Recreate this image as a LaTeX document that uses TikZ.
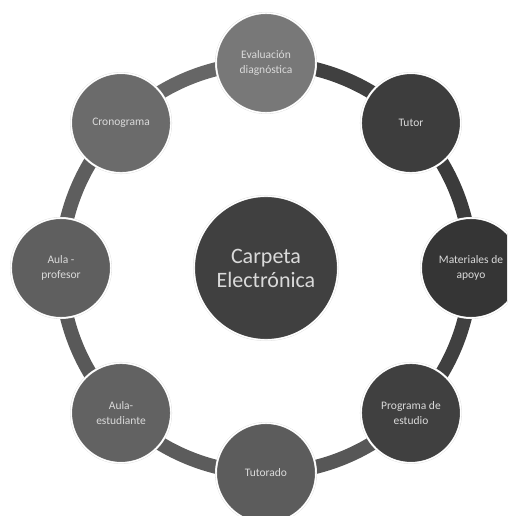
\documentclass[tikz,border=0pt]{standalone}
\usepackage{fontspec}
\setmainfont{Carlito}
\usetikzlibrary{backgrounds}
\definecolor{hubgray}{HTML}{404040}
\definecolor{evalgray}{HTML}{787878}
\definecolor{tutorgray}{HTML}{3D3D3D}
\definecolor{matgray}{HTML}{353535}
\definecolor{proggray}{HTML}{404040}
\definecolor{tutoradogray}{HTML}{5C5C5C}
\definecolor{estgray}{HTML}{626262}
\definecolor{profgray}{HTML}{5F5F5F}
\definecolor{cronogray}{HTML}{6B6B6B}
\definecolor{labelgray}{HTML}{DADADA}

\begin{document}
\begin{tikzpicture}[%
  x=1pt, y=1pt,
  bubble/.style={circle, minimum size=100pt, inner sep=0pt, align=center,
    draw=black!15, line width=0.3pt, double=white, double distance=1.4pt,
    text=labelgray, font=\fontsize{11.5}{14.5}\selectfont},
  hubnode/.style={bubble, minimum size=144pt, font=\fontsize{22}{24}\selectfont},
  ring/.style={line width=14pt},
]

  \useasboundingbox (-266,-248) rectangle (241,268);
  \clip (-266,-248) rectangle (241,268);

  \node[hubnode, fill=hubgray] (hub) at (0,0) {Carpeta\\Electrónica};

  \node[bubble, fill=evalgray] (eval) at (90:205) {Evaluación\\diagnóstica};
  \node[bubble, fill=tutorgray] (tutor) at (45:205) {Tutor};
  \node[bubble, fill=matgray] (mat) at (0:205) {Materiales de\\apoyo};
  \node[bubble, fill=proggray] (prog) at (-45:205) {Programa de\\estudio};
  \node[bubble, fill=tutoradogray] (tutorado) at (-90:205) {Tutorado};
  \node[bubble, fill=estgray] (est) at (-135:205) {Aula-\\estudiante};
  \node[bubble, fill=profgray] (prof) at (180:205) {Aula -\\profesor};
  \node[bubble, fill=cronogray] (crono) at (135:205) {Cronograma};

  \begin{scope}[on background layer]
    \draw[ring, color=black!60] (crono.center) arc[start angle=135, end angle=90, radius=205];
    \draw[ring, color=black!75] (eval.center) arc[start angle=90, end angle=45, radius=205];
    \draw[ring, color=black!77] (tutor.center) arc[start angle=45, end angle=0, radius=205];
    \draw[ring, color=black!75] (mat.center) arc[start angle=0, end angle=-45, radius=205];
    \draw[ring, color=black!66] (prog.center) arc[start angle=-45, end angle=-90, radius=205];
    \draw[ring, color=black!64] (tutorado.center) arc[start angle=-90, end angle=-135, radius=205];
    \draw[ring, color=black!65] (est.center) arc[start angle=-135, end angle=-180, radius=205];
    \draw[ring, color=black!63] (prof.center) arc[start angle=180, end angle=135, radius=205];
  \end{scope}

\end{tikzpicture}
\end{document}
